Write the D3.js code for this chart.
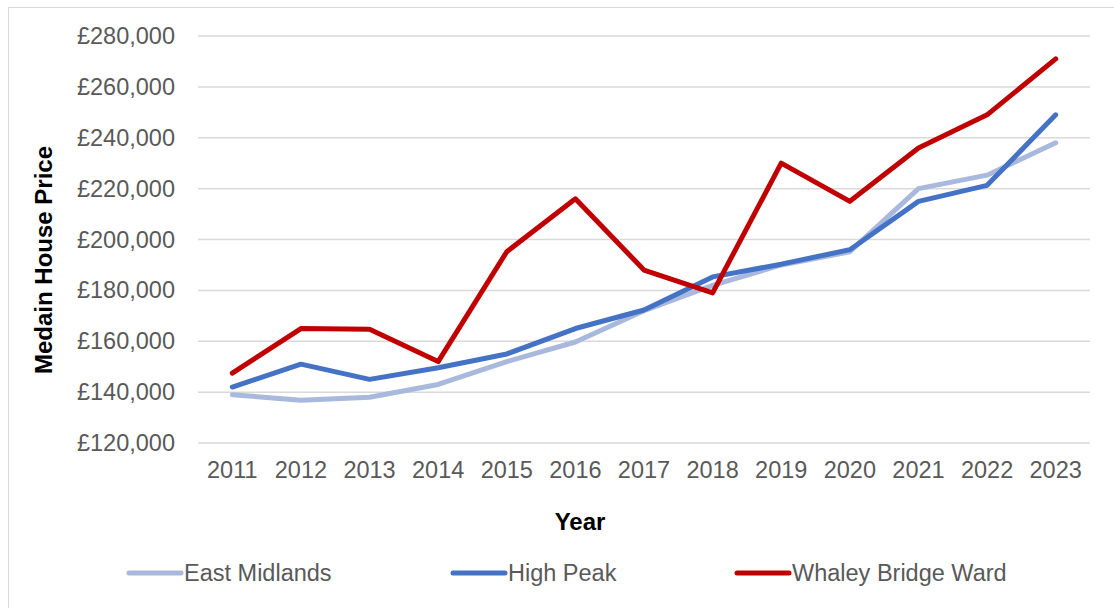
<!DOCTYPE html>
<html>
<head>
<meta charset="utf-8">
<script src="https://cdn.jsdelivr.net/npm/d3@7"></script>
<style>
  body { margin: 0; background: #fff; }
  text { font-family: "Liberation Sans", Arial, sans-serif; }
</style>
</head>
<body>
<script>
// data
const years = ["2011","2012","2013","2014","2015","2016","2017","2018","2019","2020","2021","2022","2023"];
const eastMidlands = [139000,136800,138000,143000,152000,159700,172000,182000,190000,195200,220000,225300,238000];
const highPeak = [142000,151000,145000,149600,155000,165000,172300,185300,190300,196000,215000,221300,249000];
const whaleyBridge = [147500,165000,164700,152000,195200,216000,188000,179000,230000,215000,236000,249000,271000];
const yTicks = [120000,140000,160000,180000,200000,220000,240000,260000,280000];

const seriesNames = ["East Midlands","High Peak","Whaley Bridge Ward"];
const seriesColors = ["#a9b8dd","#4472c4","#c00000"];
const seriesData = [eastMidlands, highPeak, whaleyBridge];

const W = 1114, H = 608;
const margin = {top: 36, right: 24, bottom: 165, left: 198};
const fontSize = "23.5px";

const svg = d3.select("body").append("svg")
    .attr("width", W)
    .attr("height", H);

// chart frame
svg.append("rect")
    .attr("x", 8.5).attr("y", 7.5)
    .attr("width", W + 10).attr("height", H + 10)
    .attr("fill", "none")
    .attr("stroke", "#d9d9d9")
    .attr("stroke-width", 1);

const x = d3.scaleBand()
    .domain(years)
    .range([margin.left, 1090]);

const y = d3.scaleLinear()
    .domain([120000, 280000])
    .range([443, margin.top]);

// gridlines
svg.append("g")
    .selectAll("line")
    .data(yTicks)
    .join("line")
    .attr("x1", margin.left)
    .attr("x2", 1090)
    .attr("y1", d => y(d))
    .attr("y2", d => y(d))
    .attr("stroke", "#d9d9d9")
    .attr("stroke-width", 1.5);

// y labels
const fmt = d => "£" + d3.format(",")(d);
const yAxis = svg.append("g")
    .attr("transform", "translate(" + margin.left + ",0)")
    .call(d3.axisLeft(y).tickValues(yTicks).tickFormat(fmt).tickSize(0).tickPadding(23));
yAxis.select(".domain").remove();
yAxis.selectAll("text")
    .attr("font-size", fontSize)
    .attr("fill", "#595959")
    .attr("font-family", "Liberation Sans, Arial, sans-serif");

// x labels
const xAxis = svg.append("g")
    .attr("transform", "translate(0,443)")
    .call(d3.axisBottom(x).tickSize(0).tickPadding(18));
xAxis.select(".domain").remove();
xAxis.selectAll("text")
    .attr("font-size", fontSize)
    .attr("fill", "#595959")
    .attr("font-family", "Liberation Sans, Arial, sans-serif");

// axis titles
svg.append("text")
    .attr("transform", "translate(52,260) rotate(-90)")
    .attr("text-anchor", "middle")
    .attr("font-size", "24px")
    .attr("font-weight", "bold")
    .attr("fill", "#000")
    .text("Medain House Price");

svg.append("text")
    .attr("x", 580)
    .attr("y", 530)
    .attr("text-anchor", "middle")
    .attr("font-size", "24px")
    .attr("font-weight", "bold")
    .attr("fill", "#000")
    .text("Year");

// lines
const line = d3.line()
    .x((d, i) => x(years[i]) + x.bandwidth() / 2)
    .y(d => y(d));

svg.append("g")
    .selectAll("path")
    .data(seriesData)
    .join("path")
    .attr("d", d => line(d))
    .attr("fill", "none")
    .attr("stroke", (d, i) => seriesColors[i])
    .attr("stroke-width", 5)
    .attr("stroke-linecap", "round")
    .attr("stroke-linejoin", "round");

// legend
const legendX = [127, 451, 735];
const lg = svg.append("g")
    .selectAll("g")
    .data(seriesNames)
    .join("g")
    .attr("transform", (d, i) => "translate(" + legendX[i] + ",573)");

lg.append("line")
    .attr("x1", 2).attr("x2", 54)
    .attr("y1", 0).attr("y2", 0)
    .attr("stroke", (d, i) => seriesColors[i])
    .attr("stroke-width", 5)
    .attr("stroke-linecap", "round");

lg.append("text")
    .attr("x", 57)
    .attr("y", 8)
    .attr("font-size", fontSize)
    .attr("fill", "#595959")
    .text(d => d);
</script>
</body>
</html>
